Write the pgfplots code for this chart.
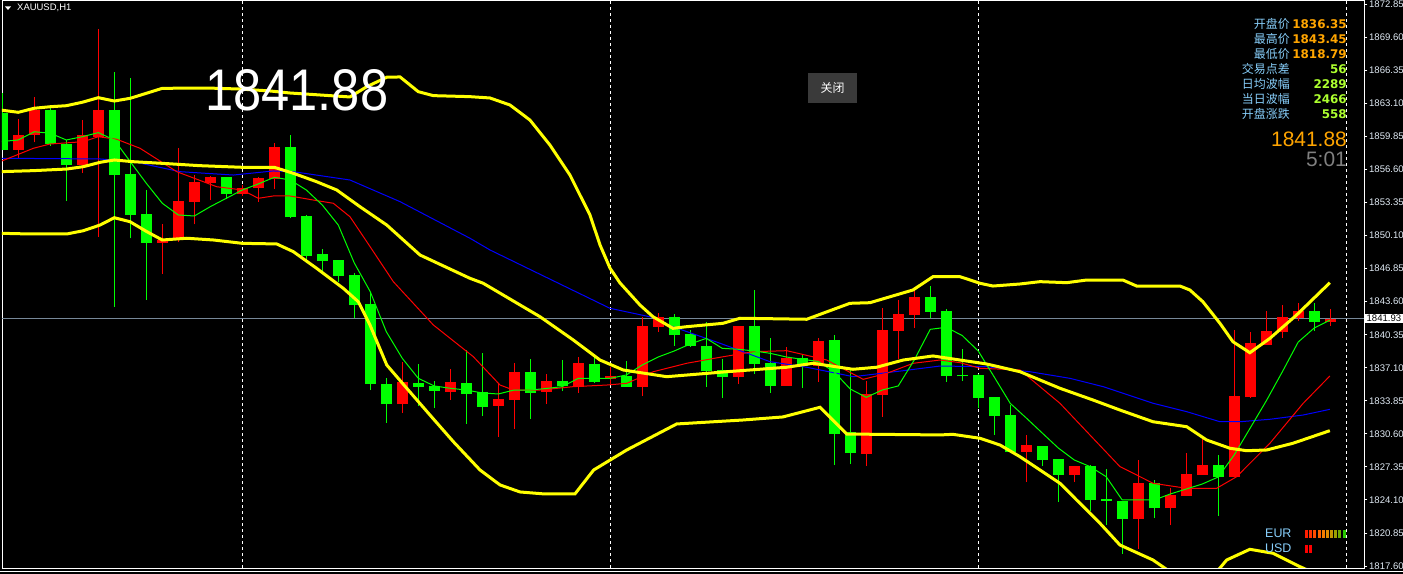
\documentclass[border=0pt]{standalone}
\usepackage{pgfplots}
\pgfplotsset{compat=1.18}
\usepackage{pgfplotstable}
\usepackage{fontspec}
\usepackage{graphicx}
\setmainfont{Liberation Sans}
\newfontfamily\cjk{Noto Sans CJK SC}
\newfontfamily\dvs{DejaVu Sans}

\definecolor{mtgreen}{RGB}{0,255,0}
\definecolor{mtred}{RGB}{255,0,0}
\definecolor{mtyellow}{RGB}{255,255,0}
\definecolor{mtblue}{RGB}{0,0,255}
\definecolor{lblue}{RGB}{135,206,250}
\definecolor{orng}{RGB}{255,165,0}
\definecolor{gyel}{RGB}{173,255,47}
\definecolor{pline}{RGB}{119,136,153}
\definecolor{axcol}{RGB}{225,235,245}
\definecolor{btngray}{RGB}{58,58,58}
\definecolor{clockgray}{RGB}{128,128,128}

% bullish candles (red): index, high, low, body top, body bottom
\pgfplotstableread{
k h l bt bb
1 1861.57 1857.77 1860.00 1858.52
2 1863.77 1859.28 1862.46 1860.00
5 1861.47 1856.29 1860.00 1857.05
6 1870.43 1849.99 1862.46 1859.83
10 1851.21 1846.30 1849.67 1849.40
11 1858.69 1849.44 1853.51 1849.67
12 1856.06 1851.21 1855.40 1853.44
13 1855.99 1853.60 1855.90 1855.25
15 1855.08 1854.00 1854.83 1854.19
16 1855.90 1853.44 1855.77 1854.76
17 1859.24 1854.69 1858.85 1855.67
25 1837.64 1832.68 1835.67 1833.53
28 1836.98 1833.93 1835.67 1834.75
31 1835.50 1830.29 1834.03 1833.34
32 1837.54 1831.08 1836.68 1833.93
34 1836.49 1833.53 1835.80 1834.72
36 1838.16 1834.62 1837.57 1835.24
38 1837.15 1835.40 1836.29 1835.96
40 1842.09 1834.32 1841.21 1835.21
41 1842.52 1840.65 1842.06 1841.14
46 1841.21 1835.50 1841.21 1836.19
49 1839.14 1835.31 1838.06 1835.31
51 1840.03 1835.70 1839.73 1837.27
54 1835.80 1827.44 1834.52 1828.62
55 1842.98 1832.26 1840.81 1834.42
56 1843.77 1837.96 1842.39 1840.72
57 1845.08 1841.04 1844.06 1842.29
64 1830.49 1825.86 1829.50 1828.81
67 1827.44 1825.86 1827.44 1826.55
71 1828.03 1819.27 1825.76 1822.22
73 1825.27 1821.63 1824.58 1823.30
74 1828.71 1824.48 1826.65 1824.48
75 1830.29 1826.55 1827.53 1826.55
77 1840.81 1826.35 1834.32 1826.35
78 1840.62 1834.13 1839.54 1834.22
79 1842.68 1839.34 1840.72 1839.34
80 1843.27 1840.03 1842.09 1840.62
81 1843.47 1841.70 1842.68 1842.00
83 1842.88 1841.21 1841.93 1841.60
}\upc

% bearish candles (green)
\pgfplotstableread{
k h l bt bb
0 1864.13 1858.52 1862.16 1858.52
3 1862.85 1858.95 1862.46 1859.11
4 1859.51 1853.54 1859.11 1857.05
7 1866.17 1843.11 1862.46 1856.06
8 1865.64 1849.84 1856.16 1852.13
9 1854.59 1843.77 1852.23 1849.40
14 1855.87 1853.70 1855.87 1854.19
18 1860.00 1851.80 1858.79 1851.90
19 1852.13 1847.38 1852.03 1848.12
20 1848.78 1846.55 1848.29 1847.63
21 1847.70 1845.57 1847.70 1846.16
22 1846.39 1841.97 1846.23 1843.27
23 1844.58 1834.91 1843.37 1835.50
24 1836.06 1831.70 1835.50 1833.53
26 1837.44 1833.34 1835.57 1835.24
27 1835.80 1833.17 1835.31 1834.84
29 1838.85 1831.57 1835.57 1834.52
30 1838.55 1832.35 1834.72 1833.27
33 1837.96 1832.06 1836.68 1834.65
35 1837.86 1834.81 1835.80 1835.31
37 1838.26 1835.60 1837.47 1835.70
39 1837.77 1835.21 1836.29 1835.21
42 1842.39 1839.27 1842.06 1840.32
43 1840.81 1839.17 1840.42 1839.24
44 1841.57 1835.21 1839.24 1836.78
45 1837.96 1834.13 1836.88 1836.19
47 1844.75 1836.49 1841.21 1837.47
48 1840.03 1834.62 1837.57 1835.31
50 1838.36 1835.11 1838.06 1837.27
52 1840.32 1827.53 1839.83 1830.58
53 1836.98 1827.66 1830.78 1828.71
58 1845.14 1842.00 1844.06 1842.59
59 1842.88 1835.70 1842.68 1836.29
60 1838.95 1835.80 1836.34 1836.24
61 1836.49 1833.14 1836.39 1834.13
62 1834.22 1830.49 1834.22 1832.35
63 1833.44 1828.71 1832.45 1828.81
65 1829.40 1827.44 1829.40 1828.03
66 1828.12 1823.89 1828.12 1826.55
68 1827.53 1823.01 1827.44 1824.09
69 1827.14 1821.63 1824.14 1824.04
70 1823.99 1818.78 1823.99 1822.22
72 1826.06 1822.32 1825.76 1823.30
76 1828.52 1822.52 1827.53 1826.35
82 1843.47 1840.72 1842.68 1841.60
}\dnc

% Bollinger upper
\pgfplotstableread{
k p
-0.14 1862.46
1.0 1862.23
2.0 1862.63
3.0 1862.78
4.0 1862.88
5.0 1863.22
6.0 1863.67
7.0 1863.34
8.0 1863.61
9.0 1864.10
10.0 1864.59
12.8 1864.62
14.86 1864.52
16.73 1864.33
17.98 1864.13
21.73 1863.74
22.78 1864.75
24.03 1865.68
24.86 1865.71
26.0 1864.26
26.94 1863.87
29.23 1863.77
30.48 1863.64
31.73 1862.95
32.98 1861.47
34.23 1859.01
35.48 1856.06
36.73 1852.13
37.36 1849.18
37.98 1846.91
38.61 1845.44
39.86 1843.27
40.67 1842.12
41.92 1840.98
42.78 1841.14
45.04 1841.47
46.11 1841.97
50.28 1841.87
52.98 1843.44
54.23 1843.50
56.92 1844.75
58.17 1846.06
59.86 1846.06
61.11 1845.41
61.92 1845.14
63.61 1845.34
64.86 1845.57
66.53 1845.47
67.78 1845.73
70.04 1845.73
70.9 1845.14
73.61 1845.14
74.23 1844.75
75.04 1843.60
76.11 1841.47
76.92 1839.66
77.98 1838.58
79.23 1839.99
80.9 1842.29
82.98 1845.47
}\bbu

% Bollinger middle
\pgfplotstableread{
k p
-0.14 1856.39
1.92 1856.49
4.03 1856.65
5.06 1856.88
6.11 1857.31
7.00 1857.54
8.19 1857.37
10.00 1857.21
12.36 1856.98
15.00 1856.82
17.00 1856.82
18.19 1856.23
19.65 1855.40
20.90 1854.59
22.36 1852.94
24.03 1851.14
26.11 1848.19
29.23 1845.90
30.06 1845.41
33.61 1842.12
35.69 1839.83
37.36 1837.86
38.81 1836.88
41.53 1836.22
45.28 1836.71
49.03 1837.15
50.67 1837.54
53.17 1836.95
54.65 1837.15
56.31 1837.86
58.17 1838.26
59.86 1837.86
61.53 1837.47
63.61 1836.71
66.11 1835.08
68.17 1833.93
69.86 1832.94
71.92 1831.79
74.03 1831.30
75.28 1829.99
76.73 1829.18
77.78 1828.94
79.03 1829.01
80.67 1829.67
82.98 1830.91
}\bbm

% Bollinger lower
\pgfplotstableread{
k p
-0.14 1850.33
1.73 1850.26
4.03 1850.26
5.06 1850.58
6.11 1851.14
7.00 1851.86
7.98 1851.47
9.03 1850.49
10.00 1849.67
11.53 1849.84
13.19 1849.67
15.00 1849.34
17.15 1849.28
18.19 1848.52
19.65 1846.88
21.31 1844.92
22.25 1843.60
22.98 1841.31
24.03 1837.37
25.28 1835.08
26.73 1832.45
28.19 1829.83
29.86 1827.04
31.11 1825.57
32.36 1824.88
33.92 1824.68
35.79 1824.68
36.96 1827.04
39.03 1829.01
42.15 1831.57
46.29 1831.96
48.79 1832.26
51.11 1833.21
52.78 1830.58
58.61 1830.49
59.42 1830.55
61.11 1830.16
62.36 1829.50
63.61 1828.35
66.11 1825.73
67.15 1824.09
68.61 1821.80
69.86 1819.66
71.92 1818.19
73.29 1816.71
75.48 1816.22
76.53 1818.19
77.98 1819.24
79.42 1818.85
81.11 1817.53
82.98 1816.22
}\bbl

% blue moving average
\pgfplotstableread{
k p
-0.14 1857.71
6.11 1857.64
8.19 1857.37
11.11 1856.39
14.44 1856.06
16.94 1856.46
18.19 1856.39
21.73 1855.57
24.86 1853.44
29.23 1849.84
30.48 1848.69
37.98 1842.95
40.90 1841.97
41.31 1841.47
44.86 1839.51
47.98 1837.70
50.28 1837.15
53.19 1836.22
56.31 1836.81
58.61 1837.27
61.53 1837.20
64.23 1836.71
66.73 1836.06
68.81 1835.24
71.94 1833.60
74.03 1832.78
76.11 1831.79
77.36 1831.79
79.23 1832.03
81.31 1832.45
82.98 1833.01
}\bma

% red moving average
\pgfplotstableread{
k p
-0.14 1857.37
1.94 1858.69
2.98 1859.11
5.06 1859.34
6.00 1859.83
7.15 1859.58
8.61 1858.69
10.90 1856.39
13.40 1854.91
15.00 1854.59
16.00 1853.77
16.94 1854.00
17.98 1854.00
19.44 1853.60
20.69 1853.28
21.73 1851.96
22.78 1849.50
24.44 1845.57
26.94 1841.31
29.44 1838.19
31.11 1835.40
31.94 1834.91
33.61 1834.91
35.69 1835.24
37.78 1835.40
39.03 1835.57
40.69 1836.71
42.78 1837.54
44.86 1838.13
46.94 1838.68
49.03 1838.78
51.53 1837.86
53.81 1835.96
55.28 1836.55
56.94 1837.54
58.61 1837.86
59.86 1837.60
61.11 1837.05
63.61 1836.88
66.11 1833.60
67.98 1830.49
69.86 1827.37
71.94 1825.73
74.03 1825.24
75.90 1825.24
77.15 1826.38
79.23 1829.67
81.31 1833.60
82.98 1836.29
}\rma

% green moving average
\pgfplotstableread{
k p
-0.14 1859.34
1 1859.51
2 1860.32
3 1860.17
4 1859.51
5 1859.83
6 1860.23
7 1859.51
8 1857.37
9 1855.25
10 1853.28
11 1852.13
12 1852.03
13 1852.95
14 1853.77
15 1854.59
16 1855.18
17 1855.84
18 1855.57
19 1854.59
20 1853.11
21 1851.14
22 1847.41
23 1844.58
24 1840.65
25 1838.03
26 1836.06
27 1835.31
28 1835.08
29 1834.91
30 1834.62
31 1834.52
32 1834.91
33 1834.91
34 1835.06
35 1835.24
36 1836.06
37 1836.06
38 1836.06
39 1836.39
40 1837.37
41 1838.16
42 1838.75
43 1839.44
44 1839.99
45 1839.01
46 1838.92
47 1838.75
48 1838.52
49 1838.16
50 1837.93
51 1837.72
52 1836.68
53 1835.01
54 1834.19
55 1834.91
56 1835.31
57 1837.86
58 1840.88
59 1841.08
60 1840.27
61 1838.75
62 1836.19
63 1833.60
64 1832.16
65 1830.68
66 1829.21
67 1828.03
68 1827.37
69 1826.38
70 1824.09
71 1824.09
72 1824.09
73 1824.68
74 1825.17
75 1825.66
76 1826.35
77 1828.52
78 1831.17
79 1833.83
80 1836.68
81 1839.63
82 1841.01
83 1841.80
}\gma

\begin{document}
\begin{tikzpicture}
\useasboundingbox (0,0) rectangle (1403bp,574bp);
\fill[black] (0,0) rectangle (1403bp,574bp);
\begin{axis}[
  at={(2bp,6bp)}, anchor=south west,
  scale only axis, width=1362bp, height=568bp,
  xmin=-0.02, xmax=85.11, ymin=1817.40, ymax=1873.28,
  axis line style={draw=white, line width=0.8bp},
  xtick=\empty,
  extra x ticks={15,38,61,84}, extra x tick labels={},
  extra x tick style={grid=major, major grid style={draw=white, line width=0.8bp, dash pattern=on 3bp off 3bp}, major tick length=0pt},
  ytick={1817.6,1820.85,1824.1,1827.35,1830.6,1833.85,1837.1,1840.35,1843.6,1846.85,1850.1,1853.35,1856.6,1859.85,1863.1,1866.35,1869.6,1872.85},
  ytick pos=right, yticklabel pos=right,
  tick align=outside, major tick length=3.5bp,
  every tick/.style={draw=white, line width=0.8bp},
  yticklabel style={font=\fontsize{9.6}{10}\selectfont, text=axcol, inner sep=1.5bp,
    /pgf/number format/fixed, /pgf/number format/fixed zerofill,
    /pgf/number format/precision=2, /pgf/number format/1000 sep={},
    /pgf/number format/assume math mode=true},
  extra y ticks={1841.93},
  extra y tick style={grid=major, major grid style={draw=pline, line width=0.8bp},
    yticklabel style={fill=white, text=black, xshift=-3bp, inner xsep=2bp, inner ysep=1bp}},
  clip=true,
]
% wicks and bodies
\addplot[mtgreen, line width=1bp, quiver={u=0, v=\thisrow{h}-\thisrow{l}}] table[x=k, y=l] {\dnc};
\addplot[mtgreen, line width=11bp, quiver={u=0, v=\thisrow{bt}-\thisrow{bb}}] table[x=k, y=bb] {\dnc};
\addplot[mtred, line width=1bp, quiver={u=0, v=\thisrow{h}-\thisrow{l}}] table[x=k, y=l] {\upc};
\addplot[mtred, line width=11bp, quiver={u=0, v=\thisrow{bt}-\thisrow{bb}}] table[x=k, y=bb] {\upc};
% indicators
\addplot[mtblue, line width=1bp, mark=none] table[x=k, y=p] {\bma};
\addplot[mtred, line width=1bp, mark=none] table[x=k, y=p] {\rma};
\addplot[mtgreen, line width=1bp, mark=none] table[x=k, y=p] {\gma};
\addplot[mtyellow, line width=3bp, mark=none] table[x=k, y=p] {\bbu};
\addplot[mtyellow, line width=3bp, mark=none] table[x=k, y=p] {\bbm};
\addplot[mtyellow, line width=3bp, mark=none] table[x=k, y=p] {\bbl};
\end{axis}

\begin{scope}[x=1bp, y=1bp]
\draw[white, line width=0.8bp] (0,3) -- (1403,3);
% title
\fill[white] (5,567.5) -- (11,567.5) -- (8,564) -- cycle;
\node[anchor=west, text=white, font=\fontsize{9.5}{10}\selectfont, inner sep=0] at (17,565.7) {XAUUSD,H1};
% big price
\node[anchor=south west, inner sep=0, text=white] at (205,463) {\resizebox{183bp}{41bp}{\fontsize{50}{50}\selectfont 1841.88}};
% close button
\fill[btngray] (808,471) rectangle (857,501);
\node[text=white, font=\cjk\fontsize{12}{12}\selectfont, inner sep=0] at (832.5,486) {关闭};
% info panel
\foreach \yy/\lab/\val/\col in {545/开盘价/1836.35/orng, 530/最高价/1843.45/orng, 515/最低价/1818.79/orng, 500/交易点差/56/gyel, 485/日均波幅/2289/gyel, 470/当日波幅/2466/gyel, 455/开盘涨跌/558/gyel}{
  \node[anchor=base east, text=lblue, font=\cjk\fontsize{12}{12}\selectfont, inner sep=0] at (1290,\yy) {\lab};
  \node[anchor=base east, text=\col, font=\dvs\bfseries\fontsize{12}{12}\selectfont, inner sep=0] at (1347,\yy) {\val};
}
\node[anchor=base east, text=orng, font=\fontsize{21}{21}\selectfont, inner sep=0] at (1347,427.3) {1841.88};
\node[anchor=base east, text=clockgray, font=\fontsize{21}{21}\selectfont, inner sep=0] at (1347,407.3) {5:01};
% currency strength
\node[anchor=base west, text=lblue, font=\fontsize{12.5}{12.5}\selectfont, inner sep=0] at (1265,36.3) {EUR};
\node[anchor=base west, text=lblue, font=\fontsize{12.5}{12.5}\selectfont, inner sep=0] at (1265,21.7) {USD};
\foreach \i/\r/\g in {0/255/30, 1/255/50, 2/255/75, 3/255/100, 4/245/125, 5/225/140, 6/195/150, 7/155/160, 8/110/170, 9/40/200}{
  \definecolor{barc}{RGB}{\r,\g,0}
  \fill[barc] ({1305+4.17*\i},36.3) rectangle ({1308+4.17*\i},44);
}
\fill[mtred] (1305,21) rectangle (1308,29);
\fill[mtred] (1309.2,21) rectangle (1312.2,29);
\end{scope}
\end{tikzpicture}
\end{document}
